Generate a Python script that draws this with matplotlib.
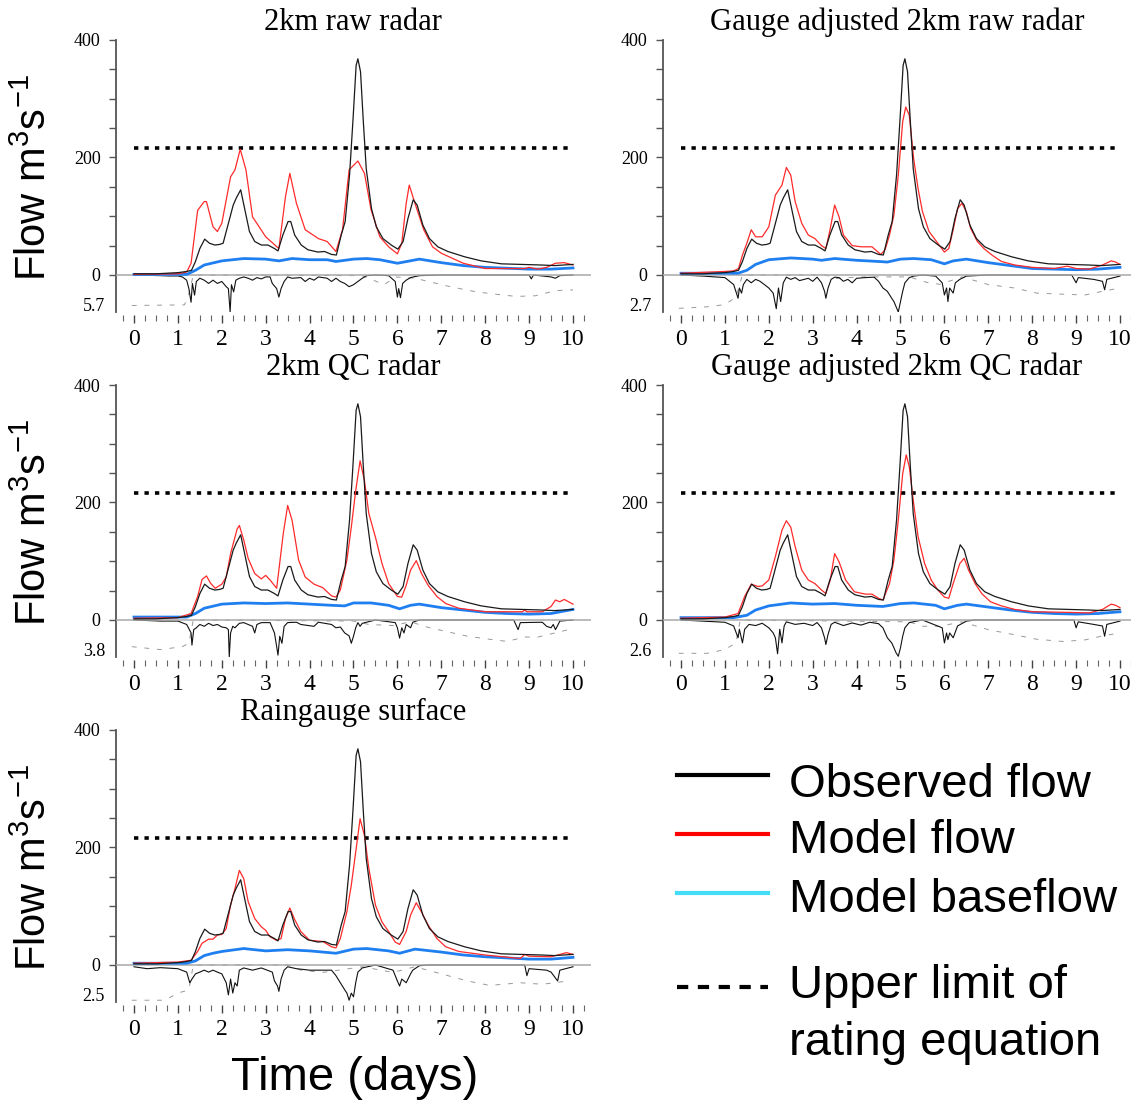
import matplotlib
matplotlib.use("Agg")
import matplotlib.pyplot as plt
from matplotlib.ticker import MultipleLocator, FixedLocator
from matplotlib.lines import Line2D
import numpy as np

plt.rcParams['mathtext.fontset'] = 'custom'
plt.rcParams['mathtext.rm'] = 'Liberation Sans'
plt.rcParams['mathtext.it'] = 'Liberation Sans:italic'

# ---------------- data ----------------
TITLES = ["2km raw radar", "Gauge adjusted 2km raw radar", "2km QC radar",
          "Gauge adjusted 2km QC radar", "Raingauge surface"]
RAIN_MAX = [5.7, 2.7, 3.8, 2.6, 2.5]          # mm, bottom of inverted rain axis
RATING_LIMIT = 216                              # upper limit of rating equation (m3/s)
X_TICKS = list(range(0, 11))
Y_TICKS = [0, 200, 400]

# observed flow (same in every panel)
OBS_T = [0, 0.5, 1.0, 1.2, 1.31, 1.4, 1.5, 1.61, 1.72, 1.84, 1.95, 2.03, 2.14, 2.26, 2.33, 2.43, 2.52,
         2.63, 2.75, 2.9, 3.05, 3.2, 3.28, 3.39, 3.51, 3.57, 3.66, 3.81, 3.96, 4.19, 4.34, 4.5, 4.61,
         4.72, 4.81, 4.91, 4.99, 5.06, 5.1, 5.16, 5.22, 5.29, 5.41, 5.52, 5.67, 5.86, 6.01, 6.13,
         6.24, 6.36, 6.45, 6.58, 6.73, 6.92, 7.15, 7.53, 7.91, 8.37, 8.82, 9.28, 9.58, 10.0]
OBS_Q = [2, 2, 4, 6, 8, 23, 45, 61, 54, 51, 52, 54, 85, 119, 131, 145, 113,
         74, 57, 51, 51, 45, 41, 68, 91, 91, 68, 51, 43, 39, 40, 35, 34,
         68, 91, 170, 266, 357, 368, 346, 266, 181, 113, 82, 62, 51, 44, 57,
         96, 128, 119, 85, 62, 48, 40, 31, 24, 19, 18, 17, 16, 18]

# --- panel 1: 2km raw radar
RAW_MODEL_T = [0, 1.0, 1.2, 1.3, 1.45, 1.6, 1.65, 1.8, 1.9, 2.0, 2.2, 2.3, 2.42, 2.55, 2.7, 3.0, 3.3,
               3.45, 3.55, 3.7, 3.9, 4.2, 4.4, 4.6, 4.75, 4.9, 5.1, 5.25, 5.4, 5.6, 5.8, 6.0, 6.1,
               6.2, 6.27, 6.4, 6.6, 6.8, 7.0, 7.5, 8.0, 8.9, 9.0, 9.2, 9.4, 9.6, 9.8, 10.0]
RAW_MODEL_Q = [1, 2, 5, 20, 110, 125, 125, 82, 74, 88, 167, 179, 214, 179, 99, 65, 45,
               133, 173, 122, 77, 62, 57, 40, 77, 179, 194, 173, 111, 65, 48, 36, 54,
               122, 153, 122, 77, 48, 37, 20, 11, 11, 13, 10, 13, 20, 21, 17]
RAW_BASE_T = [0, 1.2, 1.4, 1.6, 2.0, 2.5, 3.0, 3.3, 3.6, 4.0, 4.4, 4.6, 5.0, 5.3, 5.6, 6.0, 6.5,
              7.0, 7.5, 8.0, 9.0, 9.5, 10.0]
RAW_BASE_Q = [1, 1, 8, 17, 24, 28, 27, 24, 28, 26, 26, 23, 27, 28, 26, 20, 27,
              21, 16, 13, 10, 10, 12]
RAW_RAIN_T = [0.0, 0.6, 0.8, 1.0, 1.1, 1.2, 1.25, 1.3, 1.33, 1.38, 1.42, 1.5, 1.6, 1.7, 1.8, 1.9,
              2.0, 2.1, 2.15, 2.19, 2.22, 2.27, 2.32, 2.4, 2.5, 2.6, 2.7, 2.8, 2.9, 3.0, 3.1, 3.15,
              3.25, 3.3, 3.35, 3.42, 3.5, 3.6, 3.8, 3.9, 4.0, 4.1, 4.2, 4.4, 4.5, 4.6, 4.7, 4.8,
              4.9, 5.0, 5.1, 5.2, 5.3, 5.5, 5.8, 5.95, 6.0, 6.03, 6.07, 6.12, 6.2, 6.3, 6.5, 7.0,
              8.0, 9.0, 9.05, 9.1, 9.5, 9.6, 9.7, 10.0]
RAW_RAIN = [0, 0.1, 0.15, 0.15, 0.3, 0.8, 2.1, 4.2, 1.3, 3.1, 1.0, 0.5, 0.8, 1.3, 0.8, 1.3,
            1.0, 1.8, 2.1, 5.7, 1.5, 2.6, 0.8, 0.5, 0.3, 0.5, 0.8, 0.4, 0.6, 0.3, 0.3, 1.3,
            2.1, 3.4, 2.1, 1.0, 0.3, 0.5, 0.4, 1.0, 0.5, 0.8, 0.3, 0.5, 1.0, 0.5, 1.0, 1.3,
            1.8, 1.5, 1.0, 0.5, 0.1, 0, 0.1, 1.0, 3.4, 2.1, 3.5, 1.3, 0.8, 0.4, 0.1, 0,
            0, 0, 0.6, 0, 0.3, 0.5, 0.1, 0]
RAW_SMD_T = [-0.05, 1.15, 1.25, 1.35, 5.2, 5.7, 5.95, 6.4, 7.2, 7.8, 8.3, 8.7, 9.15, 9.6, 10.0]
RAW_SMD = [4.7, 4.6, 2.9, 0, 0.1, 1.5, 0.3, 0.5, 1.8, 2.6, 3.0, 3.3, 3.2, 2.4, 2.3]

# --- panel 2: gauge adjusted 2km raw radar
GARAW_MODEL_T = [0, 1.0, 1.2, 1.31, 1.4, 1.5, 1.6, 1.7, 1.85, 2.0, 2.15, 2.3, 2.4, 2.5, 2.6, 2.75,
                 2.9, 3.05, 3.2, 3.3, 3.4, 3.5, 3.6, 3.7, 3.9, 4.1, 4.35, 4.55, 4.65, 4.75, 4.85,
                 4.95, 5.05, 5.12, 5.2, 5.3, 5.4, 5.5, 5.65, 5.85, 6.0, 6.1, 6.2, 6.3, 6.4, 6.5,
                 6.6, 6.75, 6.9, 7.1, 7.3, 7.6, 8.0, 8.5, 8.8, 9.0, 9.3, 9.6, 9.8, 9.9, 10.0]
GARAW_MODEL_Q = [3, 6, 7, 11, 34, 54, 77, 65, 65, 82, 136, 153, 183, 170, 125, 88,
                 68, 62, 50, 45, 79, 119, 99, 68, 50, 48, 48, 35, 43, 68, 102,
                 170, 261, 286, 272, 198, 147, 108, 74, 54, 39, 45, 77, 113, 122, 108,
                 79, 57, 45, 33, 23, 17, 13, 11, 15, 11, 10, 17, 24, 22, 18]
GARAW_BASE_T = [0, 1.3, 1.5, 1.7, 2.0, 2.5, 3.0, 3.2, 3.5, 4.0, 4.5, 4.7, 5.0, 5.3, 5.7, 6.0, 6.2,
                6.5, 7.0, 7.5, 8.0, 8.5, 9.0, 9.5, 10.0]
GARAW_BASE_Q = [3, 3, 8, 18, 26, 29, 27, 25, 28, 25, 23, 22, 27, 28, 26, 19, 24,
                27, 21, 16, 11, 10, 9, 10, 13]
GARAW_RAIN_T = [0, 0.5, 1.0, 1.2, 1.3, 1.33, 1.38, 1.42, 1.5, 1.6, 1.7, 1.8, 1.9, 2.0, 2.1, 2.17,
                2.22, 2.27, 2.33, 2.4, 2.5, 2.6, 2.7, 2.9, 3.0, 3.1, 3.2, 3.27, 3.3, 3.35, 3.42,
                3.5, 3.6, 3.7, 3.8, 3.9, 4.0, 4.2, 4.4, 4.5, 4.6, 4.7, 4.8, 4.85, 4.9, 4.95, 5.0,
                5.05, 5.1, 5.2, 5.3, 5.5, 5.8, 5.95, 6.0, 6.05, 6.08, 6.12, 6.2, 6.25, 6.35, 6.5,
                7.0, 8.9, 9.0, 9.05, 9.4, 9.6, 9.65, 9.7, 10.0]
GARAW_RAIN = [0, 0.08, 0.19, 0.7, 1.7, 0.95, 1.32, 0.7, 0.32, 0.57, 0.32, 0.46, 0.7, 0.95, 1.32, 2.46,
              0.95, 1.94, 0.57, 0.16, 0.32, 0.19, 0.41, 0.24, 0.46, 0.16, 0.57, 1.19, 1.7, 0.95, 0.32,
              0.16, 0.19, 0.46, 0.32, 0.57, 0.24, 0.19, 0.16, 0.46, 0.95, 1.19, 1.7, 1.94, 2.32, 2.7, 1.94,
              1.19, 0.57, 0.19, 0.08, 0, 0.08, 0.57, 1.46, 0.95, 1.94, 0.95, 1.32, 0.57, 0.32, 0.08,
              0, 0, 0.57, 0.19, 0.32, 0.46, 1.08, 0.32, 0.08]
GARAW_SMD_T = [-0.05, 0.6, 1.0, 1.25, 1.4, 3.3, 3.5, 3.8, 4.2, 5.2, 5.6, 5.9, 6.4, 7.0, 7.6, 8.1,
               8.7, 9.2, 9.6, 10.0]
GARAW_SMD = [2.43, 2.32, 2.16, 1.62, 0, 0, 0.27, 0.19, 0.14, 0.14, 0.54, 0.68, 0.14, 0.7, 0.95, 1.32,
             1.4, 1.46, 1.19, 0.95]

# --- panel 3: 2km QC radar
QC_MODEL_T = [0, 1.0, 1.3, 1.45, 1.55, 1.65, 1.75, 1.85, 2.0, 2.1, 2.2, 2.35, 2.4, 2.5, 2.6, 2.75,
              2.9, 3.0, 3.1, 3.25, 3.4, 3.5, 3.6, 3.75, 3.9, 4.1, 4.3, 4.5, 4.6, 4.7, 4.85, 4.95,
              5.05, 5.15, 5.25, 5.35, 5.5, 5.65, 5.8, 6.0, 6.1, 6.2, 6.3, 6.43, 6.55, 6.7, 6.9,
              7.1, 7.4, 8.0, 8.85, 8.9, 8.95, 9.3, 9.5, 9.6, 9.7, 9.8, 9.9, 10.0]
QC_MODEL_Q = [3, 4, 11, 40, 69, 75, 62, 54, 61, 73, 113, 155, 161, 136, 105, 79,
              70, 76, 68, 54, 147, 195, 170, 102, 73, 61, 55, 41, 39, 51, 102, 158,
              220, 271, 237, 181, 141, 96, 62, 40, 39, 59, 85, 101, 79, 59, 40,
              28, 20, 14, 14, 17, 14, 14, 23, 34, 31, 35, 31, 27]
QC_BASE_T = [0, 1.2, 1.4, 1.6, 2.0, 2.5, 3.0, 3.5, 4.0, 4.5, 4.8, 5.0, 5.4, 5.8, 6.05, 6.3, 6.5,
             7.0, 7.5, 8.0, 8.5, 9.0, 9.5, 10.0]
QC_BASE_Q = [5, 5, 11, 20, 27, 29, 28, 29, 27, 25, 24, 29, 29, 25, 19, 25, 27,
             21, 17, 13, 11, 10, 11, 18]
QC_RAIN_T = [0, 0.6, 1.0, 1.2, 1.3, 1.32, 1.36, 1.42, 1.5, 1.6, 1.7, 1.8, 1.9, 2.0, 2.1, 2.15, 2.17,
             2.2, 2.25, 2.3, 2.4, 2.5, 2.7, 2.75, 2.8, 2.9, 3.1, 3.2, 3.25, 3.28, 3.32, 3.37, 3.42,
             3.5, 3.7, 3.8, 4.1, 4.2, 4.5, 4.6, 4.7, 4.8, 4.9, 4.95, 5.0, 5.05, 5.1, 5.15, 5.2,
             5.5, 5.95, 6.0, 6.05, 6.1, 6.15, 6.2, 6.3, 6.35, 6.5, 8.65, 8.75, 8.8, 9.3, 9.4, 9.5,
             9.55, 9.6, 9.65, 9.7, 10.0]
QC_RAIN = [0, 0.11, 0.11, 0.46, 1.33, 2.58, 0.99, 0.8, 0.46, 0.65, 0.34, 0.57, 0.46, 0.72, 0.8, 0.99, 3.8,
           1.33, 0.65, 0.8, 0.34, 0.27, 0.65, 1.33, 0.46, 0.27, 0.27, 1.33, 2.74, 3.61, 1.67, 2.39, 0.65,
           0.27, 0.23, 0.46, 0.65, 0.23, 0.46, 0.8, 0.72, 1.33, 1.63, 2.39, 1.67, 0.8, 0.27, 0.65, 0.34,
           0, 0.27, 0.8, 1.86, 0.8, 1.33, 0.46, 0.8, 0.23, 0, 0, 0.99, 0.27, 0.23, 0.65, 0.8,
           0.46, 0.99, 0.57, 0.11, 0]
QC_SMD_T = [-0.05, 0.6, 1.1, 1.25, 1.35, 5.0, 5.35, 5.9, 6.3, 6.7, 7.6, 8.1, 8.5, 8.9, 9.2, 9.9, 10.0]
QC_SMD = [2.74, 3.04, 2.74, 2.39, 0, 0.11, 0.46, 0.57, 0.19, 0.76, 1.67, 1.98, 2.2, 1.75, 1.75, 0.99, 0.95]

# --- panel 4: gauge adjusted 2km QC radar
GAQC_MODEL_T = [0, 1.0, 1.3, 1.45, 1.6, 1.75, 1.85, 2.0, 2.15, 2.3, 2.4, 2.5, 2.6, 2.75, 2.9, 3.05,
                3.2, 3.3, 3.4, 3.5, 3.6, 3.75, 3.95, 4.2, 4.35, 4.5, 4.6, 4.75, 4.85, 4.95, 5.05,
                5.13, 5.2, 5.3, 5.4, 5.55, 5.7, 5.85, 6.0, 6.1, 6.2, 6.35, 6.45, 6.55, 6.7, 6.85,
                7.05, 7.3, 7.6, 8.0, 8.8, 9.3, 9.6, 9.8, 9.9, 10.0]
GAQC_MODEL_Q = [3, 5, 11, 40, 61, 57, 58, 68, 108, 153, 169, 158, 125, 85, 68, 62,
                51, 45, 68, 113, 99, 68, 48, 44, 44, 37, 34, 62, 102, 170, 249,
                281, 261, 198, 142, 96, 68, 51, 39, 37, 62, 96, 105, 85, 62, 45,
                31, 24, 18, 14, 13, 12, 18, 27, 25, 21]
GAQC_BASE_T = [0, 1.2, 1.5, 1.7, 2.0, 2.5, 3.0, 3.5, 4.0, 4.6, 5.0, 5.3, 5.8, 6.0, 6.3, 6.5, 7.0,
               7.5, 8.0, 8.5, 9.0, 9.5, 10.0]
GAQC_BASE_Q = [4, 4, 8, 17, 24, 29, 27, 28, 25, 23, 28, 29, 25, 19, 25, 27, 22,
               17, 13, 11, 10, 11, 14]
GAQC_RAIN_T = [0, 0.5, 1.0, 1.2, 1.3, 1.33, 1.4, 1.45, 1.55, 1.7, 1.85, 2.0, 2.1, 2.15, 2.2, 2.25,
               2.3, 2.35, 2.4, 2.6, 2.8, 3.0, 3.1, 3.2, 3.27, 3.3, 3.35, 3.42, 3.5, 3.7, 3.9, 4.1,
               4.3, 4.5, 4.6, 4.7, 4.8, 4.85, 4.9, 4.95, 5.0, 5.05, 5.1, 5.2, 5.5, 5.95, 6.0, 6.05,
               6.08, 6.12, 6.2, 6.3, 6.5, 6.7, 8.95, 9.0, 9.05, 9.4, 9.6, 9.65, 9.7, 10.0]
GAQC_RAIN = [0, 0.08, 0.16, 0.42, 1.25, 0.65, 1.61, 0.65, 0.31, 0.39, 0.23, 0.55, 0.91, 1.25, 2.37, 0.65,
             1.61, 0.42, 0.13, 0.31, 0.23, 0.39, 0.18, 0.55, 1.25, 1.72, 1.01, 0.31, 0.16, 0.39, 0.21, 0.36,
             0.16, 0.26, 0.55, 1.25, 1.61, 1.95, 2.31, 2.55, 1.95, 1.14, 0.55, 0.18, 0, 0.55, 1.61, 0.91,
             1.38, 0.91, 1.25, 0.42, 0.08, 0, 0, 0.55, 0.13, 0.31, 0.42, 1.14, 0.31, 0.08]
GAQC_SMD_T = [-0.05, 0.6, 1.0, 1.25, 1.35, 5.2, 5.5, 5.9, 6.4, 7.0, 7.6, 8.1, 8.7, 9.2, 9.6, 10.0]
GAQC_SMD = [2.34, 2.34, 2.08, 1.61, 0, 0.13, 0.44, 0.44, 0.13, 0.68, 1.04, 1.35, 1.51, 1.4, 1.12, 0.91]

# --- panel 5: raingauge surface
RG_MODEL_T = [0, 1.0, 1.3, 1.45, 1.55, 1.7, 1.8, 1.9, 2.0, 2.1, 2.2, 2.3, 2.4, 2.5, 2.6, 2.75, 2.9,
              3.0, 3.1, 3.25, 3.35, 3.45, 3.55, 3.65, 3.8, 4.0, 4.3, 4.5, 4.6, 4.7, 4.85, 4.95,
              5.05, 5.15, 5.25, 5.35, 5.5, 5.65, 5.8, 5.95, 6.05, 6.2, 6.3, 6.43, 6.55, 6.7, 6.9,
              7.1, 7.4, 8.0, 8.8, 8.9, 9.0, 9.5, 9.85, 10.0]
RG_MODEL_Q = [3, 5, 8, 23, 37, 44, 44, 51, 52, 62, 102, 130, 161, 147, 108, 79, 65,
              59, 48, 42, 45, 79, 97, 79, 57, 42, 40, 31, 29, 45, 91, 136,
              192, 249, 220, 164, 102, 73, 57, 39, 35, 57, 85, 106, 90, 68, 45,
              31, 23, 17, 11, 18, 15, 14, 21, 18]
RG_BASE_T = [0, 1.2, 1.4, 1.6, 1.8, 2.0, 2.5, 3.0, 3.5, 4.0, 4.6, 5.0, 5.3, 5.8, 6.05, 6.4, 7.0,
             7.5, 8.0, 9.0, 9.5, 10.0]
RG_BASE_Q = [3, 3, 7, 16, 20, 23, 28, 24, 26, 24, 20, 27, 28, 24, 20, 27, 22,
             17, 14, 10, 10, 13]
RG_RAIN_T = [0, 0.3, 0.6, 1.0, 1.2, 1.27, 1.32, 1.4, 1.5, 1.6, 1.7, 1.8, 1.9, 2.0, 2.1, 2.15, 2.2,
             2.25, 2.3, 2.35, 2.4, 2.5, 2.7, 2.9, 3.15, 3.2, 3.27, 3.3, 3.35, 3.42, 3.5, 3.7, 4.0,
             4.5, 4.6, 4.7, 4.8, 4.85, 4.9, 4.95, 5.0, 5.05, 5.1, 5.2, 5.5, 5.9, 6.0, 6.05, 6.1,
             6.2, 6.3, 6.35, 6.5, 6.7, 8.9, 8.95, 9.0, 9.4, 9.5, 9.65, 9.7, 10.0]
RG_RAIN = [0.12, 0.25, 0.18, 0.25, 0.48, 1.2, 0.95, 0.6, 0.48, 0.35, 0.48, 0.35, 0.48, 0.6, 1.2, 2.02, 0.95,
           1.9, 1.2, 1.42, 0.35, 0.2, 0.35, 0.2, 0.48, 1.08, 1.42, 1.78, 0.95, 0.35, 0.12, 0.25, 0.35,
           0.35, 0.72, 1.2, 1.68, 1.9, 2.38, 1.9, 2.15, 1.2, 0.48, 0.2, 0, 0.35, 1.08, 1.42, 0.95,
           1.2, 0.6, 0.35, 0.05, 0, 0, 0.72, 0.25, 0.35, 0.48, 1.08, 0.35, 0.12]
RG_SMD_T = [-0.05, 0.7, 1.0, 1.25, 1.35, 3.5, 3.8, 4.3, 5.2, 5.9, 6.4, 7.0, 7.6, 8.1, 8.8, 9.3, 9.9]
RG_SMD = [2.38, 2.38, 1.9, 1.68, 0, 0, 0.35, 0.5, 0.12, 0.5, 0.12, 0.6, 1.08, 1.38, 1.2, 1.3, 1.08]

PANELS = [
    (RAW_MODEL_T, RAW_MODEL_Q, RAW_BASE_T, RAW_BASE_Q, RAW_RAIN_T, RAW_RAIN, RAW_SMD_T, RAW_SMD),
    (GARAW_MODEL_T, GARAW_MODEL_Q, GARAW_BASE_T, GARAW_BASE_Q, GARAW_RAIN_T, GARAW_RAIN, GARAW_SMD_T, GARAW_SMD),
    (QC_MODEL_T, QC_MODEL_Q, QC_BASE_T, QC_BASE_Q, QC_RAIN_T, QC_RAIN, QC_SMD_T, QC_SMD),
    (GAQC_MODEL_T, GAQC_MODEL_Q, GAQC_BASE_T, GAQC_BASE_Q, GAQC_RAIN_T, GAQC_RAIN, GAQC_SMD_T, GAQC_SMD),
    (RG_MODEL_T, RG_MODEL_Q, RG_BASE_T, RG_BASE_Q, RG_RAIN_T, RG_RAIN, RG_SMD_T, RG_SMD),
]

# ---------------- layout ----------------
W, H = 1131, 1105
fig = plt.figure(figsize=(W / 100, H / 100), dpi=100)

RAIN_DEPTH = 63          # flow-axis units used by the inverted rain strip
YMAX = 400
SERIF = 'Liberation Serif'
SANS = 'Liberation Sans'
RED = '#ff2a2a'
BLUE = '#1f7ff0'

col_geom = [(116, -0.41, 10.40), (663, -0.41, 10.25)]
row_tops = [40, 385, 730]
ax_h = 272
px_per_day = 43.9

for i, (title, rmax, data) in enumerate(zip(TITLES, RAIN_MAX, PANELS)):
    r, c = divmod(i, 2)
    x0, xl, xr = col_geom[c]
    w = (xr - xl) * px_per_day
    top = row_tops[r]
    ax = fig.add_axes([x0 / W, 1 - (top + ax_h) / H, w / W, ax_h / H])
    mt, mq, bt, bq, rt, rv, st, sv = data

    ax.plot(st, -np.asarray(sv) / rmax * RAIN_DEPTH, color='#999999', lw=0.7,
            dashes=(5, 8), zorder=2)
    ax.plot(rt, -np.asarray(rv) / rmax * RAIN_DEPTH, color='#111111', lw=0.8, zorder=3)
    ax.axhline(0, color='#a8a8a8', lw=1.1, zorder=3.5)
    ax.hlines(RATING_LIMIT, X_TICKS[0], X_TICKS[-1], colors='black', lw=2.6,
              linestyles=(0, (1.2, 1.7)), zorder=3)
    ax.plot(bt, bq, color=BLUE, lw=2.0, zorder=4)
    ax.plot(mt, mq, color=RED, lw=0.9, zorder=5)
    ax.plot(OBS_T, OBS_Q, color='#1a1a1a', lw=0.9, zorder=6)

    ax.set_xlim(xl, xr)
    ax.set_ylim(-RAIN_DEPTH, YMAX)
    for s in ('top', 'right'):
        ax.spines[s].set_visible(False)
    ax.spines['bottom'].set_position(('outward', 2))
    ax.spines['bottom'].set_visible(False)
    ax.spines['left'].set_color('#555555')
    ax.spines['left'].set_linewidth(1.3)

    ax.xaxis.set_major_locator(FixedLocator(X_TICKS))
    ax.xaxis.set_minor_locator(MultipleLocator(0.25))
    ax.set_xticklabels([str(v) for v in X_TICKS], fontfamily=SERIF, fontsize=17)
    ax.tick_params(axis='x', which='major', direction='out', length=6, width=1.0,
                   color='#444444', pad=4)
    ax.tick_params(axis='x', which='minor', direction='out', length=4, width=0.8,
                   color='#666666')

    ax.yaxis.set_major_locator(FixedLocator(Y_TICKS))
    ax.yaxis.set_minor_locator(FixedLocator([50, 100, 150, 250, 300, 350]))
    ax.set_yticklabels([str(v) for v in Y_TICKS], fontfamily=SERIF, fontsize=13)
    ax.tick_params(axis='y', which='both', direction='out', length=5, width=1.0,
                   color='#555555', pad=6)
    ax.annotate(f'{rmax}', xy=(0, -RAIN_DEPTH), xycoords=('axes fraction', 'data'),
                xytext=(-8, 4), textcoords='offset points', ha='right', va='center',
                fontfamily=SERIF, fontsize=13)

    ax.set_title(title, fontfamily=SERIF, fontsize=22, pad=7)

    if c == 0:
        fig.text(35 / W, 1 - (top + ax_h / 2 + 2) / H,
                 r'Flow m$^{\mathregular{3}}$s$^{\mathregular{-1}}$',
                 rotation=90, ha='center', va='center', fontfamily=SANS, fontsize=30)

fig.text(355 / W, 1 - 1078 / H, 'Time (days)', ha='center', va='center',
         fontfamily=SANS, fontsize=34)

# ---------------- legend ----------------
leg_items = [
    ('Observed flow', 'black', 775, 797),
    ('Model flow', '#ff0000', 834, 853),
    ('Model baseflow', '#44ddf8', 893, 912),
]
for label, col, ly, ty in leg_items:
    fig.add_artist(Line2D([677 / W, 768 / W], [1 - ly / H, 1 - ly / H], color=col, lw=3.0,
                          transform=fig.transFigure))
    fig.text(789 / W, 1 - ty / H, label, ha='left', va='baseline', fontfamily=SANS, fontsize=34)
fig.add_artist(Line2D([677 / W, 768 / W], [1 - 987 / H, 1 - 987 / H], color='black', lw=3.0,
                      dashes=(2.7, 2.3), transform=fig.transFigure))
fig.text(789 / W, 1 - 998 / H, 'Upper limit of', ha='left', va='baseline',
         fontfamily=SANS, fontsize=34)
fig.text(789 / W, 1 - 1055 / H, 'rating equation', ha='left', va='baseline',
         fontfamily=SANS, fontsize=34)

fig.savefig('out.png', dpi=100)
